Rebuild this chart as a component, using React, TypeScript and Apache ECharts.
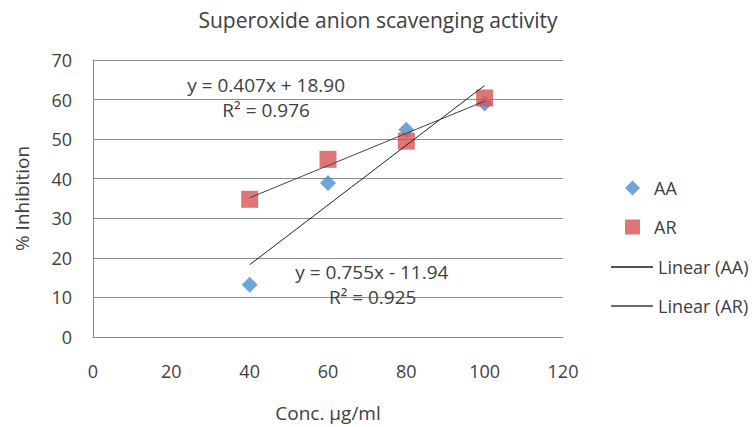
import React, { useEffect, useRef } from "react";
import * as echarts from "echarts";

const concentrations = [40, 60, 80, 100];
const aaValues = [13.2, 38.9, 52.4, 59.0];
const arValues = [34.8, 44.9, 49.5, 60.4];
const aaFit = { slope: 0.755, intercept: -11.94, r2: 0.925 };
const arFit = { slope: 0.407, intercept: 18.9, r2: 0.976 };
const xTicks = { min: 0, max: 120, interval: 20 };
const yTicks = { min: 0, max: 70, interval: 10 };

const FONT = "'Open Sans', 'Noto Sans', sans-serif";
const TEXT = "#404040";

function fitLine(f: { slope: number; intercept: number }) {
  const x0 = concentrations[0];
  const x1 = concentrations[concentrations.length - 1];
  return [
    [x0, f.slope * x0 + f.intercept],
    [x1, f.slope * x1 + f.intercept],
  ];
}

function eqText(f: { slope: number; intercept: number }) {
  const sign = f.intercept < 0 ? "-" : "+";
  return `y = ${f.slope.toFixed(3)}x ${sign} ${Math.abs(f.intercept).toFixed(2)}`;
}

export default function App() {
  const ref = useRef<HTMLDivElement>(null);
  useEffect(() => {
    if (!ref.current) return;
    const chart = echarts.init(ref.current, null, { renderer: "svg" });
    const labelStyle = { color: TEXT, fontFamily: FONT, fontSize: 19 };
    chart.setOption({
      animation: false,
      backgroundColor: "#ffffff",
      title: {
        text: "Superoxide anion scavenging activity",
        left: 373,
        top: 4,
        textAlign: "center",
        textStyle: { color: TEXT, fontFamily: FONT, fontSize: 21, fontWeight: "normal" },
      },
      grid: { left: 93, right: 193, top: 60, bottom: 90 },
      xAxis: {
        type: "value",
        min: xTicks.min,
        max: xTicks.max,
        interval: xTicks.interval,
        name: "Conc. µg/ml",
        nameLocation: "middle",
        nameGap: 66,
        nameTextStyle: { color: TEXT, fontFamily: FONT, fontSize: 19 },
        axisLine: { show: true, lineStyle: { color: "#888888", width: 1 } },
        axisTick: { show: false },
        axisLabel: { color: TEXT, fontFamily: FONT, fontSize: 18, margin: 25 },
        splitLine: { show: false },
      },
      yAxis: {
        type: "value",
        min: yTicks.min,
        max: yTicks.max,
        interval: yTicks.interval,
        name: "% Inhibition",
        nameLocation: "middle",
        nameGap: 62,
        nameTextStyle: { color: TEXT, fontFamily: FONT, fontSize: 19 },
        axisLine: { show: true, lineStyle: { color: "#888888", width: 1 } },
        axisTick: { show: false },
        axisLabel: { color: TEXT, fontFamily: FONT, fontSize: 18, margin: 21 },
        splitLine: { show: true, lineStyle: { color: "#8c8c8c", width: 1 } },
      },
      legend: [
        {
          orient: "vertical",
          left: 620,
          top: 174,
          itemWidth: 15,
          itemHeight: 15,
          itemGap: 21,
          textStyle: { color: TEXT, fontFamily: FONT, fontSize: 18, padding: [0, 0, 0, 9] },
          data: [
            { name: "AA", icon: "diamond" },
            { name: "AR", icon: "rect" },
          ],
        },
        {
          orient: "vertical",
          left: 606,
          top: 253,
          itemWidth: 42,
          itemHeight: 1.5,
          itemGap: 21,
          textStyle: { color: TEXT, fontFamily: FONT, fontSize: 18, padding: [0, 0, 0, 0] },
          data: [
            { name: "Linear (AA)", icon: "rect", itemStyle: { color: "#1a1a1a", opacity: 1 } },
            { name: "Linear (AR)", icon: "rect", itemStyle: { color: "#3a3a3a", opacity: 1 } },
          ],
        },
      ],
      series: [
        {
          name: "Linear (AA)",
          type: "line",
          data: fitLine(aaFit),
          symbol: "none",
          lineStyle: { color: "#222222", width: 1 },
          itemStyle: { color: "#222222" },
          z: 3,
          markPoint: {
            symbol: "circle",
            symbolSize: 0,
            silent: true,
            label: { show: true, position: "inside", ...labelStyle },
            data: [
              { coord: [71.2, 16.4], value: 0, label: { formatter: eqText(aaFit) } },
              { coord: [71.4, 10.1], value: 0, label: { formatter: `R² = ${aaFit.r2.toFixed(3)}` } },
            ],
          },
        },
        {
          name: "Linear (AR)",
          type: "line",
          data: fitLine(arFit),
          symbol: "none",
          lineStyle: { color: "#444444", width: 1 },
          itemStyle: { color: "#444444" },
          z: 3,
          markPoint: {
            symbol: "circle",
            symbolSize: 0,
            silent: true,
            label: { show: true, position: "inside", ...labelStyle },
            data: [
              { coord: [44.2, 63.6], value: 0, label: { formatter: eqText(arFit) } },
              { coord: [44.2, 57.4], value: 0, label: { formatter: `R² = ${arFit.r2.toFixed(3)}` } },
            ],
          },
        },
        {
          name: "AA",
          type: "scatter",
          symbol: "diamond",
          symbolSize: 16,
          data: concentrations.map((x, i) => [x, aaValues[i]]),
          itemStyle: { color: "#4a8fcf" },
          z: 2,
        },
        {
          name: "AR",
          type: "scatter",
          symbol: "rect",
          symbolSize: 17,
          data: concentrations.map((x, i) => [x, arValues[i]]),
          itemStyle: { color: "#d65452" },
          z: 2,
        },
      ],
    });
    return () => chart.dispose();
  }, []);
  return <div ref={ref} style={{ position: "fixed", left: 0, top: 0, width: 756, height: 427 }} />;
}
